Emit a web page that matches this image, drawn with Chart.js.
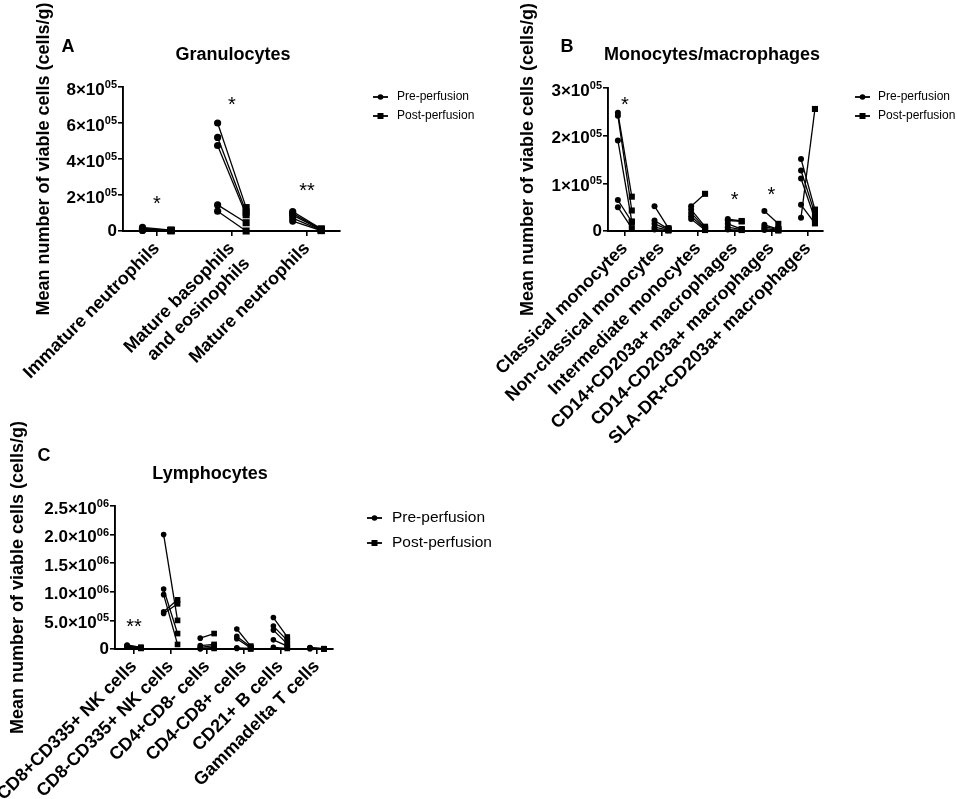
<!DOCTYPE html>
<html>
<head>
<meta charset="utf-8">
<script src="https://cdn.jsdelivr.net/npm/chart.js@4.4.1/dist/chart.umd.min.js"></script>
<style>
  html, body { margin: 0; padding: 0; background: #fff; }
  body { width: 957px; height: 799px; position: relative; overflow: hidden; }
  canvas { position: absolute; }
</style>
</head>
<body>
<canvas id="chartA" width="480" height="440" style="left:0;top:0"></canvas>
<canvas id="chartB" width="477" height="450" style="left:480px;top:0"></canvas>
<canvas id="chartC" width="560" height="399" style="left:0;top:400px"></canvas>
<script>
// ---- data ----
const catsA = ['Immature neutrophils', ['Mature basophils', 'and eosinophils'], 'Mature neutrophils'];
const preA = [
    [2.0e4, 1.5e4, 1.0e4, 5e3, 3e3],
    [6.0e5, 5.2e5, 4.75e5, 1.45e5, 1.1e5],
    [1.08e5, 0.98e5, 0.88e5, 0.72e5, 0.55e5]
];
const postA = [
    [5e3, 4e3, 3e3, 2e3, 1e3],
    [1.3e5, 1.05e5, 0.9e5, 0.46e5, 0],
    [1.2e4, 9e3, 6e3, 4e3, 2e3]
];
const starsA = ['*', '*', '**'];
const starYA = [1.83e5, 7.33e5, 2.56e5];
const yTicksA = [0, 2e5, 4e5, 6e5, 8e5];
const yLabelsA = ['0', '2×10^05', '4×10^05', '6×10^05', '8×10^05'];

const catsB = ['Classical monocytes', 'Non-classical monocytes', 'Intermediate monocytes',
    'CD14+CD203a+ macrophages', 'CD14-CD203a+ macrophages', 'SLA-DR+CD203a+ macrophages'];
const preB = [
    [2.48e5, 2.42e5, 1.9e5, 0.65e5, 0.5e5],
    [0.52e5, 0.22e5, 0.15e5, 0.08e5, 0.03e5],
    [0.52e5, 0.45e5, 0.38e5, 0.31e5, 0.25e5],
    [0.25e5, 0.22e5, 0.15e5, 0.08e5, 0.03e5],
    [0.42e5, 0.13e5, 0.09e5, 0.05e5, 0.02e5],
    [1.51e5, 1.27e5, 1.1e5, 0.55e5, 0.28e5]
];
const postB = [
    [0.72e5, 0.43e5, 0.2e5, 0.19e5, 0.06e5],
    [0.06e5, 0.04e5, 0.03e5, 0.02e5, 0.01e5],
    [0.78e5, 0.09e5, 0.06e5, 0.04e5, 0.02e5],
    [0.21e5, 0.2e5, 0.04e5, 0.03e5, 0.02e5],
    [0.15e5, 0.04e5, 0.03e5, 0.02e5, 0.01e5],
    [0.45e5, 0.36e5, 0.25e5, 0.16e5, 2.56e5]
];
const starsB = ['*', '', '', '*', '*', ''];
const starYB = [2.77e5, 0, 0, 0.78e5, 0.88e5, 0];
const yTicksB = [0, 1e5, 2e5, 3e5];
const yLabelsB = ['0', '1×10^05', '2×10^05', '3×10^05'];

const catsC = ['CD8+CD335+ NK cells', 'CD8-CD335+ NK cells', 'CD4+CD8- cells',
    'CD4-CD8+ cells', 'CD21+ B cells', 'Gammadelta T cells'];
const preC = [
    [7e4, 6e4, 5e4, 4e4, 3e4],
    [2.0e6, 1.05e6, 0.95e6, 0.65e6, 0.62e6],
    [1.9e5, 6e4, 3e4, 1e4, 0],
    [3.5e5, 2.2e5, 1.8e5, 2e4, 1e4],
    [5.5e5, 4.0e5, 3.3e5, 1.6e5, 3e4],
    [2.5e4, 2e4, 1.5e4, 1e4, 5e3]
];
const postC = [
    [3e4, 2.5e4, 2e4, 1.5e4, 1e4],
    [0.5e6, 0.27e6, 0.08e6, 0.86e6, 0.79e6],
    [2.7e5, 8e4, 6e4, 3e4, 1e4],
    [5e4, 4e4, 2e4, 1e4, 0],
    [2.1e5, 1.5e5, 9e4, 5e4, 1e4],
    [5e3, 4e3, 3e3, 2e3, 1e3]
];
const starsC = ['**', '', '', '', '', ''];
const starYC = [4.9e5, 0, 0, 0, 0, 0];
const yTicksC = [0, 5e5, 1e6, 1.5e6, 2e6, 2.5e6];
const yLabelsC = ['0', '5.0×10^05', '1.0×10^06', '1.5×10^06', '2.0×10^06', '2.5×10^06'];

const seriesNames = ['Pre-perfusion', 'Post-perfusion'];
const yTitle = 'Mean number of viable cells (cells/g)';

// ---- drawing ----
const FAMILY = '"Liberation Sans", Arial, Helvetica, sans-serif';
Chart.defaults.font.family = FAMILY;
Chart.defaults.color = '#000';
const OFF = 0.19;

// titles, panel letters, y tick labels with superscripts, stars and legend
const decor = {
    id: 'decor',
    afterDraw(chart, args, o) {
        const ctx = chart.ctx;
        const xs = chart.scales.x, ys = chart.scales.y;
        ctx.save();
        ctx.fillStyle = '#000';
        ctx.strokeStyle = '#000';
        ctx.textAlign = 'center';
        ctx.textBaseline = 'middle';
        ctx.font = 'bold 18px ' + FAMILY;
        ctx.fillText(o.letter, o.letterX, o.letterY);
        ctx.fillText(o.title, o.titleX, o.titleY);

        // y tick labels
        const right = ys.right - 6;
        ctx.textAlign = 'right';
        o.tickVals.forEach((v, i) => {
            const parts = o.tickLabels[i].split('^');
            const py = ys.getPixelForValue(v);
            if (parts.length > 1) {
                ctx.font = 'bold 11px ' + FAMILY;
                const sw = ctx.measureText(parts[1]).width;
                ctx.fillText(parts[1], right, py - 2);
                ctx.font = 'bold 17px ' + FAMILY;
                ctx.fillText(parts[0], right - sw, py + 3);
            } else {
                ctx.font = 'bold 17px ' + FAMILY;
                ctx.fillText(parts[0], right, py);
            }
        });

        // significance stars
        ctx.textAlign = 'center';
        ctx.textBaseline = 'alphabetic';
        ctx.font = '20px ' + FAMILY;
        o.stars.forEach((s, i) => {
            if (!s) return;
            ctx.fillText(s, xs.getPixelForValue(i), ys.getPixelForValue(o.starY[i]) + 12);
        });

        // legend
        ctx.textAlign = 'left';
        ctx.textBaseline = 'middle';
        ctx.font = o.legendSize + 'px ' + FAMILY;
        ctx.lineWidth = 1.8;
        seriesNames.forEach((name, i) => {
            const y = o.legendY + i * o.legendGap;
            const x = o.legendX;
            ctx.beginPath();
            ctx.moveTo(x, y);
            ctx.lineTo(x + 15, y);
            ctx.stroke();
            ctx.beginPath();
            if (i === 0) {
                ctx.arc(x + 7.5, y, 2.8, 0, Math.PI * 2);
            } else {
                ctx.rect(x + 4.5, y - 3, 6, 6);
            }
            ctx.fill();
            ctx.fillText(name, x + o.legendText, y);
        });
        ctx.restore();
    }
};

function pairSets(pre, post, rc, rs) {
    const sets = [];
    pre.forEach((vals, i) => {
        vals.forEach((v, j) => {
            sets.push({
                data: [{x: i - OFF, y: v}, {x: i + OFF, y: post[i][j]}],
                showLine: true,
                borderColor: '#000',
                borderWidth: 1.3,
                tension: 0,
                pointStyle: ['circle', 'rect'],
                pointRadius: [rc, rs],
                pointHoverRadius: [rc, rs],
                pointBackgroundColor: '#000',
                pointBorderWidth: 0,
                clip: false
            });
        });
    });
    return sets;
}

function makePanel(id, p) {
    const axisGrid = {
        display: true,
        drawOnChartArea: false,
        drawTicks: true,
        tickLength: 5,
        color: '#000',
        lineWidth: 1.6
    };
    return new Chart(document.getElementById(id), {
        type: 'scatter',
        data: { datasets: pairSets(p.pre, p.post, p.rc, p.rs) },
        options: {
            responsive: false,
            animation: false,
            events: [],
            layout: { padding: p.padding },
            plugins: {
                legend: { display: false },
                tooltip: { enabled: false },
                title: { display: false },
                decor: p.decor
            },
            scales: {
                x: {
                    type: 'linear',
                    min: p.xMin,
                    max: p.xMax,
                    afterBuildTicks: s => { s.ticks = p.cats.map((c, i) => ({ value: i })); },
                    afterFit: s => { s.height = p.xHeight; s.paddingLeft = 0; s.paddingRight = 0; },
                    ticks: {
                        autoSkip: false,
                        minRotation: 45,
                        maxRotation: 45,
                        padding: 2,
                        color: '#000',
                        font: { size: 18, weight: 'bold' },
                        callback: v => p.cats[v]
                    },
                    grid: axisGrid,
                    border: { display: true, color: '#000', width: 1.9 }
                },
                y: {
                    type: 'linear',
                    min: 0,
                    max: p.yTicks[p.yTicks.length - 1],
                    afterBuildTicks: s => { s.ticks = p.yTicks.map(v => ({ value: v })); },
                    afterFit: s => { s.width = p.yWidth; s.paddingTop = 0; s.paddingBottom = 0; },
                    ticks: { callback: () => '' },
                    grid: axisGrid,
                    border: { display: true, color: '#000', width: 1.9 },
                    title: {
                        display: true,
                        text: yTitle,
                        color: '#000',
                        font: { size: 18, weight: 'bold' },
                        padding: { top: p.yTitlePad, bottom: 0 }
                    }
                }
            }
        },
        plugins: [decor]
    });
}

makePanel('chartA', {
    cats: catsA, pre: preA, post: postA, rc: 3.6, rs: 5.0,
    yTicks: yTicksA, xMin: -0.45, xMax: 2.44,
    padding: { top: 87, right: 140, left: 0, bottom: 0 },
    yWidth: 123, xHeight: 209, yTitlePad: 33,
    decor: {
        letter: 'A', letterX: 68, letterY: 47, title: 'Granulocytes', titleX: 233, titleY: 55,
        tickVals: yTicksA, tickLabels: yLabelsA, stars: starsA, starY: starYA,
        legendX: 373, legendY: 97, legendGap: 19, legendSize: 12, legendText: 24
    }
});

makePanel('chartB', {
    cats: catsB, pre: preB, post: postB, rc: 3.0, rs: 4.3,
    yTicks: yTicksB, xMin: -0.46, xMax: 5.41,
    padding: { top: 88, right: 134, left: 0, bottom: 0 },
    yWidth: 128, xHeight: 219, yTitlePad: 37,
    decor: {
        letter: 'B', letterX: 87, letterY: 47, title: 'Monocytes/macrophages', titleX: 232, titleY: 55,
        tickVals: yTicksB, tickLabels: yLabelsB, stars: starsB, starY: starYB,
        legendX: 375, legendY: 97, legendGap: 19, legendSize: 12, legendText: 23
    }
});

makePanel('chartC', {
    cats: catsC, pre: preC, post: postC, rc: 2.8, rs: 4.0,
    yTicks: yTicksC, xMin: -0.52, xMax: 5.44,
    padding: { top: 106, right: 227, left: 0, bottom: 0 },
    yWidth: 115, xHeight: 150, yTitlePad: 7,
    decor: {
        letter: 'C', letterX: 44, letterY: 56, title: 'Lymphocytes', titleX: 210, titleY: 74,
        tickVals: yTicksC, tickLabels: yLabelsC, stars: starsC, starY: starYC,
        legendX: 367, legendY: 118, legendGap: 25, legendSize: 15.5, legendText: 25
    }
});
</script>
</body>
</html>
